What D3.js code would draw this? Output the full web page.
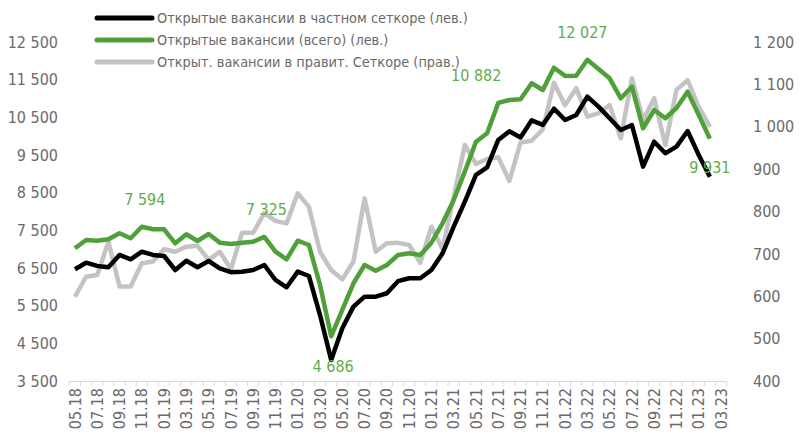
<!DOCTYPE html>
<html>
<head>
<meta charset="utf-8">
<script src="https://cdn.jsdelivr.net/npm/d3@7"></script>
<style>
  body { margin: 0; background: #fff; }
  text { font-family: "Liberation Sans Narrow", "DejaVu Sans Condensed", sans-serif; }
</style>
</head>
<body>
<div id="chart-container"></div>
<script>
// categories (monthly, the last one has no data)
const months = ["05.18","06.18","07.18","08.18","09.18","10.18","11.18","12.18",
    "01.19","02.19","03.19","04.19","05.19","06.19","07.19","08.19","09.19","10.19","11.19","12.19",
    "01.20","02.20","03.20","04.20","05.20","06.20","07.20","08.20","09.20","10.20","11.20","12.20",
    "01.21","02.21","03.21","04.21","05.21","06.21","07.21","08.21","09.21","10.21","11.21","12.21",
    "01.22","02.22","03.22","04.22","05.22","06.22","07.22","08.22","09.22","10.22","11.22","12.22",
    "01.23","02.23","03.23"];

// private sector openings (left axis)
const privateOpenings = [6466,6641,6554,6519,6846,6731,6934,6846,6819,6447,6694,6519,6686,6492,6390,
    6403,6447,6580,6182,5988,6403,6288,5250,4058,4900,5474,5740,5740,5829,6150,6227,6227,6447,6890,
    7597,8261,8970,9170,9900,10130,9965,10420,10300,10730,10429,10562,11048,10783,10474,10164,10297,
    9190,9853,9545,9721,10137,9500,8924];

// total openings (left axis)
const totalOpenings = [7023,7244,7225,7262,7422,7289,7594,7528,7528,7156,7395,7217,7403,7173,7140,
    7173,7199,7325,6933,6731,7225,7111,6050,4686,5385,6094,6580,6429,6580,6846,6890,6846,7172,7687,
    8306,9057,9853,10076,10882,10960,10979,11404,11226,11818,11600,11606,12027,11783,11536,11005,11313,
    10209,10695,10475,10748,11181,10562,9931];

// government openings (right axis)
const governmentOpenings = [599,646,650,729,623,623,678,682,711,705,717,719,686,705,664,
    750,750,796,778,772,843,811,705,662,640,682,831,705,725,726,721,679,764,711,
    835,957,912,924,928,872,963,967,994,1104,1051,1091,1024,1032,1051,973,1114,
    1016,1067,957,1087,1110,1047,1000];

const leftTicks = [3500,4500,5500,6500,7500,8500,9500,10500,11500,12500];
const rightTicks = [400,500,600,700,800,900,1000,1100,1200];

const seriesNames = [
    "Открытые вакансии в частном сеткоре (лев.)",
    "Открытые вакансии (всего) (лев.)",
    "Открыт. вакансии в правит. Сеткоре (прав.)"
];
// indices of points on the total series that carry a value label
const labelIndex = [6, 17, 23, 38, 46, 57];

const width = 804, height = 434;
const plot = {left: 69.4, right: 726.6, top: 42, bottom: 381};
const colors = {private: "#000000", total: "#50a03a", gov: "#c3c3c3", label: "#62ac4a", axis: "#6a6a6a"};
const fmt = v => d3.format(",")(v).replace(/,/g, " ");

let svg = d3.select("#chart-container")
    .append("svg")
    .attr("width", width)
    .attr("height", height);

let x = d3.scaleBand()
    .domain(months)
    .range([plot.left, plot.right]);
let cx = i => x(months[i]) + x.bandwidth() / 2;

let yl = d3.scaleLinear().domain([3500, 12500]).range([plot.bottom, plot.top]);
let yr = d3.scaleLinear().domain([400, 1200]).range([plot.bottom, plot.top]);

// left axis labels
let ylAxis = d3.axisLeft(yl).tickValues(leftTicks).tickFormat(fmt).tickSize(0).tickPadding(0);
let gl = svg.append("g")
    .attr("class", "yl axis")
    .attr("transform", "translate(58,0)")
    .call(ylAxis);
gl.select(".domain").remove();
gl.selectAll("text").style("font-size", "16px").attr("fill", colors.axis);

// right axis labels
let yrAxis = d3.axisRight(yr).tickValues(rightTicks).tickFormat(fmt).tickSize(0).tickPadding(0);
let gr = svg.append("g")
    .attr("class", "yr axis")
    .attr("transform", "translate(753,0)")
    .call(yrAxis);
gr.select(".domain").remove();
gr.selectAll("text").style("font-size", "16px").attr("fill", colors.axis);

// x axis: line with ticks between categories, rotated labels every 2nd month
svg.append("line")
    .attr("x1", plot.left).attr("x2", plot.right)
    .attr("y1", plot.bottom + 0.5).attr("y2", plot.bottom + 0.5)
    .attr("stroke", "#d9d9d9").attr("stroke-width", 1);
svg.selectAll("line.tick")
    .data(months.concat(["end"]))
    .enter()
    .append("line")
    .attr("class", "tick")
    .attr("x1", (d, i) => plot.left + i * x.bandwidth())
    .attr("x2", (d, i) => plot.left + i * x.bandwidth())
    .attr("y1", plot.bottom).attr("y2", plot.bottom + 5)
    .attr("stroke", "#d9d9d9");
svg.selectAll("text.xlab")
    .data(months.filter((d, i) => i % 2 === 0))
    .enter()
    .append("text")
    .attr("class", "xlab")
    .attr("transform", d => "translate(" + (x(d) + x.bandwidth() / 2) + "," + (plot.bottom + 7) + ") rotate(-90)")
    .attr("dy", "0.35em")
    .style("text-anchor", "end")
    .style("font-size", "16px")
    .attr("fill", colors.axis)
    .text(d => d);

// lines
let lineLeft = d3.line().x((d, i) => cx(i)).y(d => yl(d));
let lineRight = d3.line().x((d, i) => cx(i)).y(d => yr(d));

svg.append("path").datum(governmentOpenings)
    .attr("d", lineRight).attr("fill", "none")
    .attr("stroke", colors.gov).attr("stroke-width", 4.5).attr("stroke-linejoin", "round");
svg.append("path").datum(privateOpenings)
    .attr("d", lineLeft).attr("fill", "none")
    .attr("stroke", colors.private).attr("stroke-width", 4.5).attr("stroke-linejoin", "round");
svg.append("path").datum(totalOpenings)
    .attr("d", lineLeft).attr("fill", "none")
    .attr("stroke", colors.total).attr("stroke-width", 4.5).attr("stroke-linejoin", "round");

// value labels on the total series (offsets follow the original placement)
let labelShift = {6: [3, -22], 17: [2, -22], 23: [2, 36], 38: [-22, -22], 46: [-5, -22], 57: [0, 34]};
svg.selectAll("text.vlab")
    .data(labelIndex)
    .enter()
    .append("text")
    .attr("class", "vlab")
    .attr("x", i => cx(i) + labelShift[i][0])
    .attr("y", i => yl(totalOpenings[i]) + labelShift[i][1])
    .style("text-anchor", "middle")
    .style("font-size", "16px")
    .attr("fill", colors.label)
    .text(i => fmt(totalOpenings[i]));

// legend
let legendColors = [colors.private, colors.total, colors.gov];
let legend = svg.selectAll("g.legend")
    .data(seriesNames)
    .enter()
    .append("g")
    .attr("class", "legend")
    .attr("transform", (d, i) => "translate(97," + (18 + i * 22) + ")");
legend.append("line")
    .attr("x1", 0).attr("x2", 55)
    .attr("stroke", (d, i) => legendColors[i])
    .attr("stroke-width", 5)
    .attr("stroke-linecap", "round");
legend.append("text")
    .attr("x", 60)
    .attr("dy", "0.35em")
    .style("font-size", "14.4px")
    .attr("fill", colors.axis)
    .text(d => d);
</script>
</body>
</html>
